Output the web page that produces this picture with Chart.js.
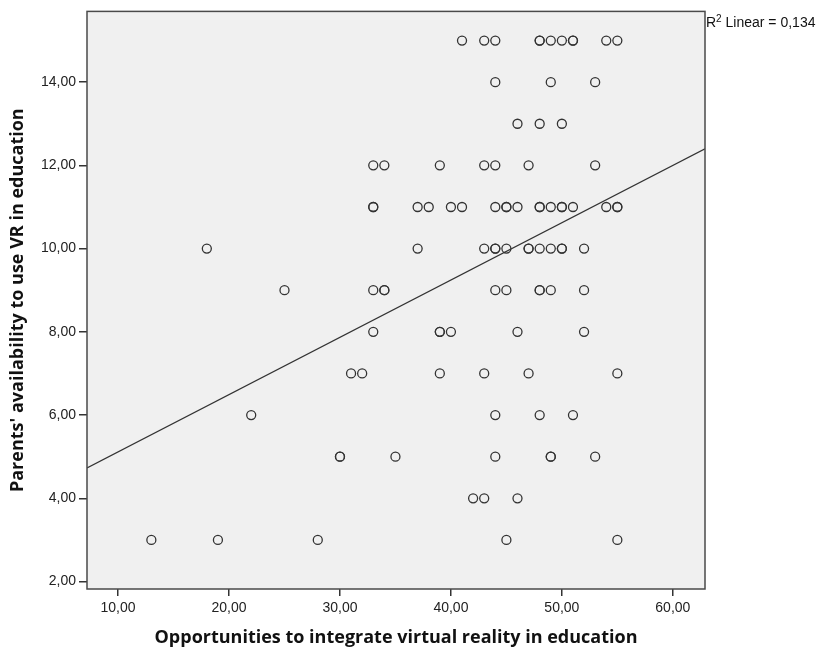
<!DOCTYPE html>
<html>
<head>
<meta charset="utf-8">
<script src="https://cdn.jsdelivr.net/npm/chart.js@4/dist/chart.umd.min.js"></script>
<style>
  html, body { margin: 0; padding: 0; background: #fff; }
  #wrap { width: 820px; height: 651px; position: relative; }
</style>
</head>
<body>
<div id="wrap"><canvas id="scatter"></canvas></div>
<script>
// Values
const yLevels = [15, 14, 13, 12, 11, 10, 9, 8, 7, 6, 5, 4, 3];
const xByLevel = [
  [41, 43, 44, 48, 48, 49, 50, 51, 51, 54, 55],
  [44, 49, 53],
  [46, 48, 50],
  [33, 34, 39, 43, 44, 47, 53],
  [33, 33, 37, 38, 40, 41, 44, 45, 45, 46, 48, 48, 49, 50, 50, 51, 54, 55, 55],
  [18, 37, 43, 44, 44, 45, 47, 47, 48, 49, 50, 50, 52],
  [25, 33, 34, 34, 44, 45, 48, 48, 49, 52],
  [33, 39, 39, 40, 46, 52],
  [31, 32, 39, 43, 47, 55],
  [22, 44, 48, 51],
  [30, 30, 35, 44, 49, 49, 53],
  [42, 43, 46],
  [13, 19, 28, 45, 55]
];
const fitX = [7.2, 62.9];
const fitY = [4.73, 12.4];
const xTicks = [10, 20, 30, 40, 50, 60];
const yTicks = [2, 4, 6, 8, 10, 12, 14];
const rSquared = '0,134';

const points = [];
yLevels.forEach((y, i) => xByLevel[i].forEach(x => points.push({ x, y })));

const fmt = v => v.toFixed(2).replace('.', ',');
const ink = '#333';

const plotFrame = {
  id: 'plotFrame',
  beforeDraw(chart) {
    const { ctx, chartArea: a } = chart;
    ctx.save();
    ctx.fillStyle = '#f0f0f0';
    ctx.fillRect(a.left, a.top, a.right - a.left, a.bottom - a.top);
    ctx.restore();
  },
  afterDraw(chart) {
    const { ctx, chartArea: a } = chart;
    ctx.save();
    ctx.strokeStyle = '#4a4a4a';
    ctx.lineWidth = 1.5;
    ctx.strokeRect(a.left, a.top, a.right - a.left, a.bottom - a.top);
    // R² annotation
    ctx.fillStyle = '#111';
    ctx.textBaseline = 'middle';
    ctx.font = '14px "Liberation Sans", Arial, sans-serif';
    let x = a.right + 1;
    const y = 23;
    ctx.fillText('R', x, y);
    x += ctx.measureText('R').width;
    ctx.font = '10px "Liberation Sans", Arial, sans-serif';
    ctx.fillText('2', x, y - 4);
    x += ctx.measureText('2').width;
    ctx.font = '14px "Liberation Sans", Arial, sans-serif';
    ctx.fillText(' Linear = ' + rSquared, x, y);
    ctx.restore();
  }
};

const tickFont = { family: '"Liberation Sans", Arial, sans-serif', size: 14 };
const titleFont = { family: '"Open Sans", "DejaVu Sans", sans-serif', size: 18, weight: 'bold' };

new Chart(document.getElementById('scatter'), {
  type: 'scatter',
  data: {
    datasets: [
      {
        data: points,
        pointStyle: 'circle',
        pointRadius: 4.5,
        pointHoverRadius: 4.5,
        borderColor: ink,
        borderWidth: 1.3,
        backgroundColor: 'rgba(0,0,0,0)'
      },
      {
        type: 'line',
        data: fitX.map((x, i) => ({ x, y: fitY[i] })),
        borderColor: ink,
        borderWidth: 1.2,
        pointRadius: 0
      }
    ]
  },
  options: {
    responsive: true,
    maintainAspectRatio: false,
    animation: false,
    layout: { padding: { top: 9, right: 115, left: 0, bottom: 0 } },
    plugins: { legend: { display: false }, tooltip: { enabled: false } },
    scales: {
      x: {
        type: 'linear',
        min: 7.2,
        max: 62.9,
        afterBuildTicks: s => { s.ticks = xTicks.map(value => ({ value })); },
        afterFit: s => { s.height = 62; },
        grid: { drawOnChartArea: false, tickLength: 7, color: ink, lineWidth: 1.5 },
        border: { display: false },
        ticks: { font: tickFont, color: '#222', padding: 4, maxRotation: 0, callback: fmt },
        title: {
          display: true,
          text: 'Opportunities to integrate virtual reality in education',
          font: titleFont,
          color: '#111',
          padding: { top: 0, bottom: 2 }
        }
      },
      y: {
        type: 'linear',
        min: 1.82,
        max: 15.7,
        afterBuildTicks: s => { s.ticks = yTicks.map(value => ({ value })); },
        afterFit: s => { s.width = 87; },
        grid: { drawOnChartArea: false, tickLength: 8, color: ink, lineWidth: 1.5 },
        border: { display: false },
        ticks: { font: tickFont, color: '#222', padding: 3, callback: fmt },
        title: {
          display: true,
          text: "Parents' availability to use VR in education",
          font: titleFont,
          color: '#111',
          padding: { top: 7, bottom: 0 }
        }
      }
    }
  },
  plugins: [plotFrame]
});
</script>
</body>
</html>
